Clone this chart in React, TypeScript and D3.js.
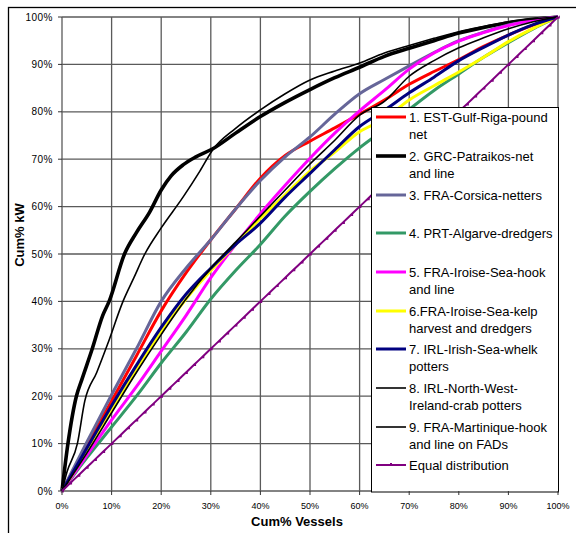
import React from "react";
import * as d3 from "d3";

const pctVessels = [0, 5, 10, 15, 20, 25, 30, 35, 40, 45, 50, 55, 60, 65, 70, 75, 80, 85, 90, 95, 100];
const estGulfRiga = [0, 9.5, 19, 28.5, 38, 46, 53, 59.5, 66, 70.8, 73.8, 76.6, 79.5, 82.5, 85.8, 88.5, 91, 93.8, 96.2, 98.3, 100];
const fraCorsica = [0, 10.3, 20.3, 30, 40, 47, 53, 59.5, 65.5, 70.5, 74.7, 79.5, 83.8, 86.8, 89.7, 92.5, 95, 96.8, 98.3, 99.4, 100];
const prtAlgarve = [0, 7, 13.5, 20, 27, 33.5, 40.5, 46.5, 52, 58, 63.2, 68, 72.4, 76.3, 80.5, 84.5, 88, 91.5, 94.6, 97.5, 100];
const fraIroiseHook = [0, 7.5, 15, 22, 29.5, 37, 45, 52, 58.5, 64.5, 70.2, 75.5, 80.2, 84.5, 89, 92.4, 94.9, 96.7, 98.2, 99.3, 100];
const fraIroiseKelp = [0, 8.5, 17, 25.5, 33.5, 40.5, 46.5, 52, 57.5, 62.5, 67.5, 71.5, 75.8, 78.5, 82.5, 85.5, 88.4, 91.5, 94.8, 97.6, 100];
const irlWhelk = [0, 9, 18, 26.5, 34.5, 41.5, 47, 52, 56.5, 62, 67, 72, 76.9, 80.3, 84, 87.3, 90.8, 93.6, 96.2, 98.4, 100];
const irlCrab = [0, 8, 16.5, 25, 33, 40.5, 47, 52.5, 58, 63.5, 69, 74, 79.3, 82.2, 87.5, 90.8, 93.5, 95.6, 97.5, 99, 100];

const grcVessels = [0, 1.2, 2.9, 4, 6.1, 8.2, 9.5, 12.6, 15, 17.7, 20, 22, 24.4, 27, 30.4, 35, 40, 45, 50, 55, 60, 65, 70, 75, 80, 85, 90, 95, 100];
const grcPatraikos = [0, 10, 20, 23.5, 30, 37, 40, 50, 54.5, 58.9, 63.5, 66.5, 68.8, 70.5, 72.2, 75.5, 79, 82, 84.7, 87.2, 89.4, 91.7, 93.4, 95, 96.6, 97.8, 98.8, 99.5, 100];
const martVessels = [0, 1, 3.1, 4.6, 7, 9.2, 12.3, 14.5, 16.7, 20, 24.4, 27.8, 30.4, 35, 40, 45, 50, 55, 60, 65, 70, 75, 80, 85, 90, 95, 100];
const fraMartinique = [0, 4, 10, 19, 25, 31, 40, 45, 50, 55.5, 62, 67.5, 72, 76.5, 80.4, 83.8, 86.7, 88.6, 90.3, 92.4, 94, 95.5, 96.9, 98, 99, 99.6, 100];

const equalShare = [0, 1.67, 3.33, 5, 6.67, 8.33, 10, 11.67, 13.33, 15, 16.67, 18.33, 20, 21.67, 23.33, 25, 26.67, 28.33, 30, 31.67, 33.33, 35, 36.67, 38.33, 40, 41.67, 43.33, 45, 46.67, 48.33, 50, 51.67, 53.33, 55, 56.67, 58.33, 60, 61.67, 63.33, 65, 66.67, 68.33, 70, 71.67, 73.33, 75, 76.67, 78.33, 80, 81.67, 83.33, 85, 86.67, 88.33, 90, 91.67, 93.33, 95, 96.67, 98.33, 100];

const tickValues = [0, 10, 20, 30, 40, 50, 60, 70, 80, 90, 100];

const legendLabels = [
  ["1. EST-Gulf-Riga-pound", "net"],
  ["2. GRC-Patraikos-net", "and line"],
  ["3. FRA-Corsica-netters"],
  ["4. PRT-Algarve-dredgers"],
  ["5. FRA-Iroise-Sea-hook", "and line"],
  ["6.FRA-Iroise-Sea-kelp", "harvest and dredgers"],
  ["7. IRL-Irish-Sea-whelk", "potters"],
  ["8. IRL-North-West-", "Ireland-crab potters"],
  ["9. FRA-Martinique-hook", "and line on FADs"],
  ["Equal distribution"],
];

type Series = { xs: number[]; ys: number[]; color: string; width: number };

const series: Series[] = [
  { xs: pctVessels, ys: estGulfRiga, color: "#FF0000", width: 3 },
  { xs: grcVessels, ys: grcPatraikos, color: "#000000", width: 3.6 },
  { xs: pctVessels, ys: fraCorsica, color: "#666699", width: 3 },
  { xs: pctVessels, ys: prtAlgarve, color: "#339966", width: 3 },
  { xs: pctVessels, ys: fraIroiseHook, color: "#FF00FF", width: 3 },
  { xs: pctVessels, ys: fraIroiseKelp, color: "#FFFF00", width: 3 },
  { xs: pctVessels, ys: irlWhelk, color: "#000080", width: 3 },
  { xs: pctVessels, ys: irlCrab, color: "#000000", width: 1.6 },
  { xs: martVessels, ys: fraMartinique, color: "#000000", width: 1.6 },
  { xs: equalShare, ys: equalShare, color: "#800080", width: 2 },
];

const legendY = [117, 156, 195, 233, 272, 311, 349, 388, 427, 465];

export default function App() {
  const x = d3.scaleLinear().domain([0, 100]).range([62, 558]);
  const y = d3.scaleLinear().domain([0, 100]).range([491, 17]);
  const line = d3
    .line<[number, number]>()
    .x((d) => x(d[0]))
    .y((d) => y(d[1]))
    .curve(d3.curveMonotoneX);
  const font = "Liberation Sans, Arial, sans-serif";
  const grid = "#5a5a5a";

  return (
    <svg
      width={576}
      height={533}
      style={{ position: "absolute", left: 0, top: 0, background: "#fff" }}
      fontFamily={font}
    >
      <rect x={0} y={0} width={576} height={533} fill="#fff" />
      <rect x={8.5} y={7.5} width={600} height={560} fill="none" stroke="#000" strokeWidth={1.3} />
      {tickValues.map((t) => (
        <g key={"g" + t}>
          <line x1={x(t)} x2={x(t)} y1={y(0)} y2={y(100)} stroke={grid} strokeWidth={1.3} />
          <line x1={x(0)} x2={x(100)} y1={y(t)} y2={y(t)} stroke={grid} strokeWidth={1.3} />
          <line x1={x(0) - 4} x2={x(0)} y1={y(t)} y2={y(t)} stroke="#333" strokeWidth={1} />
        </g>
      ))}
      {series.map((s, i) => (
        <path
          key={"s" + i}
          d={line(s.xs.map((v, j) => [v, s.ys[j]] as [number, number])) || ""}
          fill="none"
          stroke={s.color}
          strokeWidth={s.width}
          strokeLinejoin="round"
        />
      ))}
      {equalShare.map((v, i) => (
        <path
          key={"m" + i}
          d={`M${x(v) - 1.5},${y(v) + 1.5} L${x(v) + 1.8},${y(v) + 1.5} L${x(v) + 1.8},${y(v) - 1.8} Z`}
          fill="#800080"
        />
      ))}
      <rect x={371.5} y={107.5} width={187} height={384.5} fill="#fff" stroke="#000" strokeWidth={1} />
      {legendLabels.map((lab, i) => {
        const s = series[i];
        const cy = legendY[i];
        return (
          <g key={"l" + i}>
            <line x1={376} x2={406} y1={cy} y2={cy} stroke={s.color} strokeWidth={s.width} />
            {i === 9 && <rect x={390} y={cy - 2} width={2} height={2} fill="#800080" />}
            {lab.map((t, k) => (
              <text key={k} x={409} y={cy + 4.6 + k * 17} fontSize={13} fill="#000">
                {t}
              </text>
            ))}
          </g>
        );
      })}
      {tickValues.map((t) => (
        <g key={"t" + t}>
          <line x1={x(t)} x2={x(t)} y1={y(0)} y2={y(0) + 4} stroke="#333" strokeWidth={1} />
          <text x={x(t)} y={y(0) + 18} fontSize={9} textAnchor="middle" fill="#000">
            {t + "%"}
          </text>
          <text x={53} y={y(t)} dy="0.35em" fontSize={10} letterSpacing={0.5} textAnchor="end" fill="#000">
            {t + "%"}
          </text>
        </g>
      ))}
      <text x={297} y={526} fontSize={13} fontWeight="bold" textAnchor="middle" fill="#000">
        Cum% Vessels
      </text>
      <text
        transform="translate(24,235) rotate(-90)"
        fontSize={13}
        fontWeight="bold"
        textAnchor="middle"
        fill="#000"
      >
        Cum% kW
      </text>
    </svg>
  );
}
